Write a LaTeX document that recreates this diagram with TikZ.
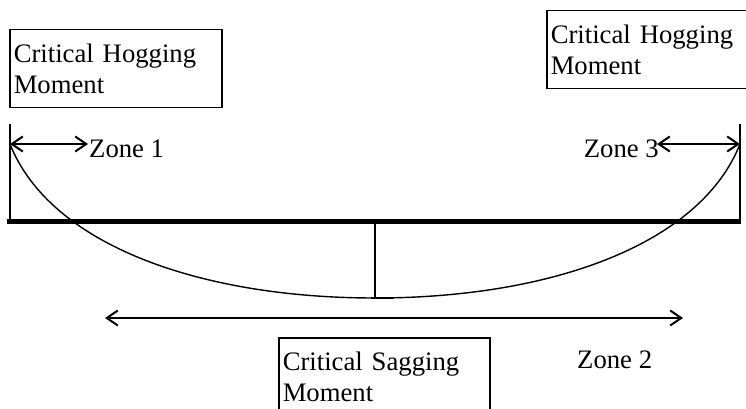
\documentclass[tikz,border=0pt]{standalone}
\usepackage{fontspec}
\setmainfont{Liberation Serif}
\usetikzlibrary{arrows.meta,positioning}

\begin{document}
\begin{tikzpicture}[x=1pt,y=-1pt,>={Straight Barb[length=11pt,width=15pt]},
    every node/.style={font=\fontsize{26.7}{31}\selectfont, inner sep=0pt},
    momentbox/.style={draw, line width=1.5pt, anchor=north west, align=left,
        inner xsep=4pt, text width=204pt, minimum height=78pt}]
                \clip (0,0) rectangle (746,409);

                \node[momentbox] (hogL) at (9,29) {Critical Hogging\\Moment};
                \node[momentbox] (hogR) at (546,10) {Critical Hogging\\Moment};
                \node[momentbox, text width=203pt] (sag) at (278,337) {Critical Sagging\\Moment};

                \coordinate (beamL) at (7,221.5);
                \coordinate (beamR) at (741,221.5);
                \coordinate (supL) at (10,124);
                \coordinate (supR) at (740,124);
                \coordinate (zl) at (10,144);
                \coordinate (zr) at (740,144);
                \coordinate (mid) at (375,298);

                \draw[line width=5pt] (beamL) -- (beamR);
                \draw[line width=2pt] (supL) -- (supL |- beamL);
                \draw[line width=2pt] (supR) -- (supR |- beamR);

                % moment curve
                \draw[line width=1.4pt] (zl) .. controls (50,245) and (200,298) .. (mid)
                    .. controls (550,298) and (700,245) .. (zr);
                \draw[line width=1.6pt] (mid) -- (mid |- beamL);
                \draw[line width=2pt] ([xshift=-4pt]mid) -- ([xshift=19pt]mid);

                \coordinate (z1e) at (88,144);
                \coordinate (z3e) at (657,144);
                \coordinate (s2l) at (105,318);
                \coordinate (s2r) at (683,318);

                \draw[<->, line width=2pt] (zl) -- (z1e);
                \draw[<->, line width=2pt] (z3e) -- (zr);
                \draw[<->, line width=2pt] (s2l) -- (s2r);

                \node[anchor=base west] (zone1) at (89,157) {Zone 1};
                \node[anchor=base east] (zone3) at (659,157) {Zone 3};
                \node[anchor=base west] (zone2) at (577,368) {Zone 2};
\end{tikzpicture}
\end{document}
